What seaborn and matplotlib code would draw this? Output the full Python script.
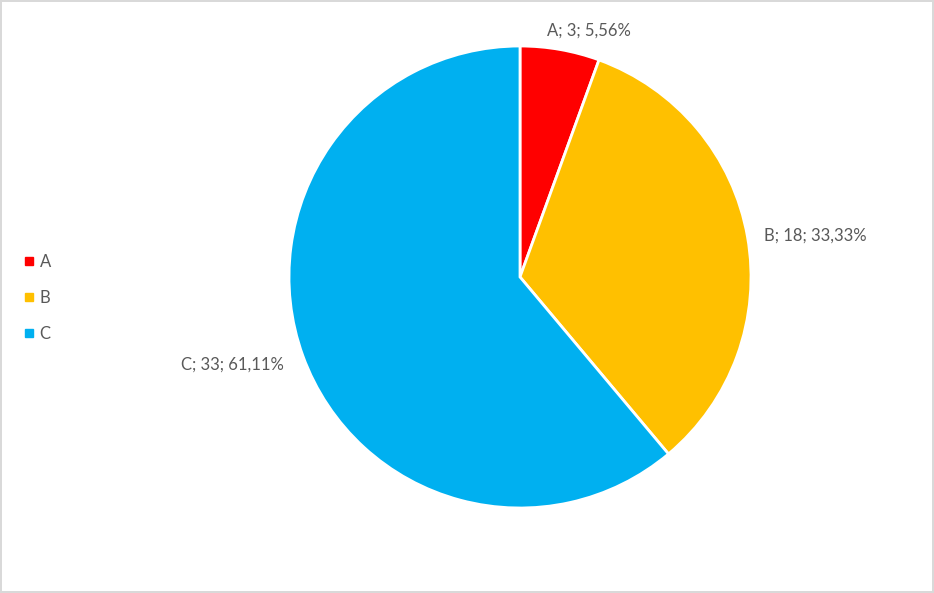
import matplotlib
matplotlib.use("Agg")
import matplotlib.pyplot as plt
import seaborn as sns
import numpy as np
from matplotlib.lines import Line2D

categories = ["A", "B", "C"]
values = [3, 18, 33]
colors = ["#FF0000", "#FFC000", "#00B0F0"]

sns.set_style("white")
plt.rcParams['font.family'] = ['Lato', 'DejaVu Sans']
palette = sns.color_palette(colors)
text_color = "#595959"

W, H = 934, 593
fig = plt.figure(figsize=(W / 100, H / 100), dpi=100, facecolor="white",
                 edgecolor="#D9D9D9", linewidth=1.5)

cx, cy, R = 520, 277, 231
ax = fig.add_axes([(cx - R) / W, (H - cy - R) / H, 2 * R / W, 2 * R / H])
wedges, _ = ax.pie(values, colors=palette, startangle=90, counterclock=False,
                   radius=1.0, wedgeprops=dict(edgecolor="white", linewidth=2))
ax.set_xlim(-1, 1)
ax.set_ylim(-1, 1)
ax.set_aspect("equal")
ax.axis("off")

total = sum(values)
# label style offsets (pixels) relative to the wedge's outer mid point
offsets = [(29, 19, "center"), (17, 1, "left"), (-19, -9, "right")]
for w, cat, v, (dx, dy, ha) in zip(wedges, categories, values, offsets):
    ang = np.deg2rad((w.theta1 + w.theta2) / 2)
    pct = f"{100 * v / total:.2f}".replace(".", ",")
    ax.annotate(f"{cat}; {v}; {pct}%", xy=(np.cos(ang), np.sin(ang)),
                xytext=(dx * 0.72, dy * 0.72), textcoords="offset points",
                ha=ha, va="center", fontsize=12, color=text_color)

handles = [Line2D([0], [0], marker="s", linestyle="none", markersize=5.5,
                  markerfacecolor=c, markeredgecolor=c) for c in palette]
fig.legend(handles, categories, loc="center left", bbox_to_anchor=(18 / W, 1 - 298 / H),
           frameon=False, fontsize=12, labelcolor=text_color, handlelength=0.5,
           handletextpad=0.4, labelspacing=1.2, borderaxespad=0)

fig.savefig("out.png", dpi=100, facecolor="white", edgecolor=fig.get_edgecolor())
